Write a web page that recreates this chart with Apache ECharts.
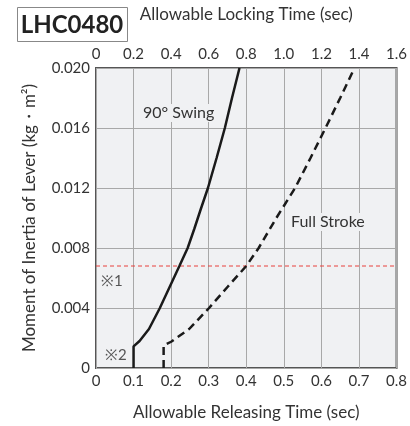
<!DOCTYPE html>
<html><head><meta charset="utf-8">
<script src="https://cdn.jsdelivr.net/npm/echarts@6/dist/echarts.min.js"></script>
<style>html,body{margin:0;padding:0;background:#fff}#c{width:410px;height:426px}</style>
</head><body><div id="c"></div>
<script>
const releasingTicks = [0,0.1,0.2,0.3,0.4,0.5,0.6,0.7,0.8];
const lockingTicks = [0,0.2,0.4,0.6,0.8,1.0,1.2,1.4,1.6];
const inertiaTicks = [0,0.004,0.008,0.012,0.016,0.020];
// 90° Swing: [releasing time, inertia]
const swingTime = [0.1,0.1,0.116,0.141,0.170,0.196,0.222,0.244,0.262,0.279,0.298,0.321,0.343,0.362,0.382];
const swingInertia = [0,0.00144,0.0018,0.0026,0.004,0.0054,0.0068,0.008,0.0093,0.0106,0.012,0.014,0.016,0.018,0.020];
// Full Stroke
const strokeTime = [0.18,0.18,0.2,0.248,0.301,0.35,0.40,0.433,0.48,0.53,0.571,0.611,0.650,0.688];
const strokeInertia = [0,0.0015,0.00175,0.0026,0.004,0.0054,0.0068,0.008,0.010,0.012,0.014,0.016,0.018,0.020];
const limitInertia = 0.0068;

const FONT = 'Lato';
const TXT = '#333';
const BG = '#f0f1f3';
const chart = echarts.init(document.getElementById('c'), null, {renderer:'canvas'});
const zip = (a,b)=>a.map((v,i)=>[v,b[i]]);
chart.setOption({
  animation:false,
  grid:{left:96, top:68, width:303, height:301, show:true, backgroundColor:BG, borderColor:'#555', borderWidth:2},
  xAxis:[{
    type:'value', position:'bottom', min:releasingTicks[0], max:releasingTicks[releasingTicks.length-1], interval:0.1,
    name:'Allowable Releasing Time (sec)', nameLocation:'middle', nameGap:36,
    nameTextStyle:{fontFamily:FONT, fontSize:17, color:TXT},
    axisLine:{show:false}, axisTick:{show:false},
    axisLabel:{margin:6, fontFamily:FONT, fontSize:15, color:TXT, formatter:v=>v===0?'0':v.toFixed(1)},
    splitLine:{show:true, lineStyle:{color:'#a8a8a8', width:1}}
  },{
    type:'value', position:'top', min:lockingTicks[0], max:lockingTicks[lockingTicks.length-1], interval:0.2,
    name:'Allowable Locking Time (sec)', nameLocation:'middle', nameGap:45,
    nameTextStyle:{fontFamily:FONT, fontSize:17, color:TXT},
    axisLine:{show:false}, axisTick:{show:false},
    axisLabel:{margin:6, fontFamily:FONT, fontSize:15, color:TXT, formatter:v=>v===0?'0':v.toFixed(1)},
    splitLine:{show:false}
  }],
  yAxis:{
    type:'value', min:inertiaTicks[0], max:inertiaTicks[inertiaTicks.length-1], interval:0.004,
    name:'Moment of Inertia of Lever (kg・m²)', nameLocation:'middle', nameGap:58,
    nameTextStyle:{fontFamily:FONT, fontSize:17, color:TXT},
    axisLine:{show:false}, axisTick:{show:false},
    axisLabel:{margin:6, fontFamily:FONT, fontSize:15, color:TXT, formatter:v=>v===0?'0':v.toFixed(3)},
    splitLine:{show:true, lineStyle:{color:'#a8a8a8', width:1}}
  },
  series:[
    {type:'line', xAxisIndex:0, data:[[0,limitInertia],[0.8,limitInertia]], showSymbol:false, silent:true,
      lineStyle:{color:'#e8403c', width:1, type:[4,3]}},
    {type:'line', xAxisIndex:0, data:zip(swingTime,swingInertia), showSymbol:false, smooth:false,
      lineStyle:{color:'#1a1a1a', width:2.5}},
    {type:'line', xAxisIndex:0, data:zip(strokeTime,strokeInertia), showSymbol:false, smooth:false,
      lineStyle:{color:'#1a1a1a', width:2.5, type:[8,5]}}
  ],
  graphic:[
    {type:'rect', shape:{x:17.5, y:7.5, width:110, height:34}, style:{fill:'#fff', stroke:'#888', lineWidth:1}},
    {type:'text', x:72, y:25, style:{text:'LHC0480', fontFamily:FONT, fontWeight:'bold', fontSize:24, fill:'#222', align:'center', verticalAlign:'middle'}},
    {type:'text', x:142, y:113, z:10, style:{text:'90° Swing', fontFamily:FONT, fontSize:16, fill:TXT, verticalAlign:'middle', backgroundColor:BG, padding:[1,1]}},
    {type:'text', x:290, y:222, z:10, style:{text:'Full Stroke', fontFamily:FONT, fontSize:16, fill:TXT, verticalAlign:'middle', backgroundColor:BG, padding:[1,1]}},
    {type:'text', x:101, y:281, style:{text:'※1', fontFamily:FONT, fontSize:15, fill:'#555', verticalAlign:'middle'}},
    {type:'text', x:105, y:355, style:{text:'※2', fontFamily:FONT, fontSize:15, fill:'#555', verticalAlign:'middle'}}
  ]
});
</script></body></html>
